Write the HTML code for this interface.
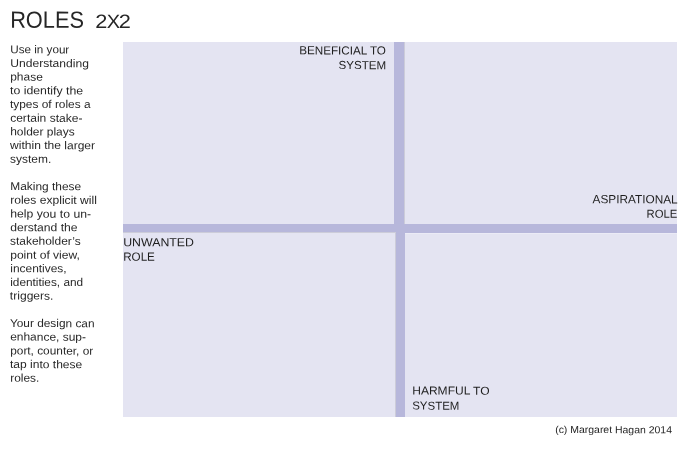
<!DOCTYPE html>
<html><head><meta charset="utf-8"><title>ROLES 2x2</title>
<style>
html,body{margin:0;padding:0;background:#fff;}
body{width:700px;height:452px;position:relative;overflow:hidden;font-family:"Liberation Sans",sans-serif;color:#262626;}
.panel{position:absolute;left:123px;top:42px;width:554.3px;height:375px;background:#e4e4f2;}
.bar{position:absolute;background:#b7b7db;}
.g{position:absolute;background:#ccccd9;}
.b,.lab,.tt{position:absolute;left:0;top:0;white-space:nowrap;transform-origin:0 0;}
.b{font-size:11.4px;line-height:13px;height:13px;}
.lab,.tt{line-height:1.15;}
.lab{color:#1e1e1e}
.up{text-transform:uppercase}
</style></head><body>
<div class="b" id="b0" style="transform:translate(10.32px,43.30px) rotate(0.1deg) scale(1.0231,1.0000)">Use in your</div>
<div class="b" id="b1" style="transform:translate(10.28px,57.05px) rotate(0.1deg) scale(1.0608,1.0000)">Understanding</div>
<div class="b" id="b2" style="transform:translate(10.24px,70.60px) rotate(0.1deg) scale(1.0496,1.0000)">phase</div>
<div class="b" id="b3" style="transform:translate(10.03px,84.31px) rotate(0.1deg) scale(1.0779,1.0000)">to identify the</div>
<div class="b" id="b4" style="transform:translate(10.05px,97.95px) rotate(0.1deg) scale(1.0418,1.0000)">types of roles a</div>
<div class="b" id="b5" style="transform:translate(10.17px,111.80px) rotate(0.1deg) scale(1.0574,1.0000)">certain stake-</div>
<div class="b" id="b6" style="transform:translate(10.23px,125.37px) rotate(0.1deg) scale(1.0502,1.0000)">holder plays</div>
<div class="b" id="b7" style="transform:translate(10.10px,139.04px) rotate(0.1deg) scale(1.0564,1.0000)">within the larger</div>
<div class="b" id="b8" style="transform:translate(10.10px,152.82px) rotate(0.1deg) scale(1.0489,1.0000)">system.</div>
<div class="b" id="b10" style="transform:translate(10.34px,180.09px) rotate(0.1deg) scale(1.0451,1.0000)">Making these</div>
<div class="b" id="b11" style="transform:translate(10.20px,193.79px) rotate(0.1deg) scale(1.0610,1.0000)">roles explicit will</div>
<div class="b" id="b12" style="transform:translate(10.22px,207.57px) rotate(0.1deg) scale(1.0727,1.0000)">help you to un-</div>
<div class="b" id="b13" style="transform:translate(10.16px,221.25px) rotate(0.1deg) scale(1.0650,1.0000)">derstand the</div>
<div class="b" id="b14" style="transform:translate(10.05px,234.78px) rotate(0.1deg) scale(1.0485,1.0000)">stakeholder’s</div>
<div class="b" id="b15" style="transform:translate(10.23px,248.74px) rotate(0.1deg) scale(1.0577,1.0000)">point of view,</div>
<div class="b" id="b16" style="transform:translate(10.33px,262.23px) rotate(0.1deg) scale(1.0459,1.0000)">incentives,</div>
<div class="b" id="b17" style="transform:translate(10.27px,275.93px) rotate(0.1deg) scale(1.0360,1.0000)">identities, and</div>
<div class="b" id="b18" style="transform:translate(9.88px,289.57px) rotate(0.1deg) scale(1.0598,1.0000)">triggers.</div>
<div class="b" id="b20" style="transform:translate(9.93px,317.03px) rotate(0.1deg) scale(1.0414,1.0000)">Your design can</div>
<div class="b" id="b21" style="transform:translate(10.17px,330.58px) rotate(0.1deg) scale(1.0504,1.0000)">enhance, sup-</div>
<div class="b" id="b22" style="transform:translate(10.22px,344.53px) rotate(0.1deg) scale(1.0401,1.0000)">port, counter, or</div>
<div class="b" id="b23" style="transform:translate(10.04px,358.08px) rotate(0.1deg) scale(1.0552,1.0000)">tap into these</div>
<div class="b" id="b24" style="transform:translate(10.28px,371.70px) rotate(0.1deg) scale(1.0438,1.0000)">roles.</div>
<div class="panel"></div>
<div class="bar" style="left:394px;top:42px;width:10px;height:186px"></div>
<div class="g" style="left:404px;top:42px;width:1px;height:182px"></div>
<div class="g" style="left:395px;top:233px;width:1px;height:184px"></div>
<div class="bar" style="left:396px;top:228px;width:9px;height:189px"></div>
<div class="bar" style="left:123px;top:224px;width:282px;height:8px"></div>
<div class="g" style="left:123px;top:232px;width:273px;height:1px"></div>
<div class="bar" style="left:405px;top:224px;width:272px;height:8.7px"></div>
<div class="g" style="left:405px;top:233px;width:272px;height:1px;background:#ebebf6"></div>
<div class="tt" id="t1" style="font-size:23.3px;transform:translate(10.17px,6.48px) rotate(0.1deg) scale(0.9342,1.0070)">ROLES</div>
<div id="t2"><span class="tt" id="t2a" style="font-size:18.4px;transform:translate(95.17px,10.16px) rotate(0.1deg) scale(1.1819,1.0547)">2</span><span class="tt up" id="t2b" style="font-size:18.4px;transform:translate(106.71px,9.97px) rotate(0.1deg) scale(1.0871,1.0558)">x</span><span class="tt" id="t2c" style="font-size:18.4px;transform:translate(118.86px,10.17px) rotate(0.1deg) scale(1.1816,1.0547)">2</span></div>
<div class="lab" id="l1a" style="font-size:11.5px;transform:translate(299.16px,44.15px) rotate(0.1deg) scale(1.0159,1.0201)">BENEFICIAL TO</div>
<div class="lab" id="l1b" style="font-size:11.5px;transform:translate(338.56px,58.94px) rotate(0.1deg) scale(1.0083,1.0155)">SYSTEM</div>
<div class="lab" id="l2a" style="font-size:11.5px;transform:translate(592.51px,192.90px) rotate(0.1deg) scale(1.0278,1.0378)">ASPIRATIONAL</div>
<div class="lab" id="l2b" style="font-size:11.5px;transform:translate(646.54px,207.62px) rotate(0.1deg) scale(0.9836,1.0107)">ROLE</div>
<div class="lab" id="l3a" style="font-size:11.5px;transform:translate(123.19px,236.04px) rotate(0.1deg) scale(1.0725,1.0216)">UNWANTED</div>
<div class="lab" id="l3b" style="font-size:11.5px;transform:translate(123.18px,250.35px) rotate(0.1deg) scale(1.0134,1.0330)">ROLE</div>
<div class="lab" id="l4a" style="font-size:11.5px;transform:translate(412.24px,384.44px) rotate(0.1deg) scale(1.0459,1.0094)">HARMFUL TO</div>
<div class="lab" id="l4b" style="font-size:11.5px;transform:translate(412.20px,399.48px) rotate(0.1deg) scale(0.9983,1.0123)">SYSTEM</div>
<div class="lab" id="cp" style="font-size:10.2px;transform:translate(555.17px,424.03px) rotate(0.1deg) scale(1.0261,1.0000)">(c) Margaret Hagan 2014</div>
</body></html>
